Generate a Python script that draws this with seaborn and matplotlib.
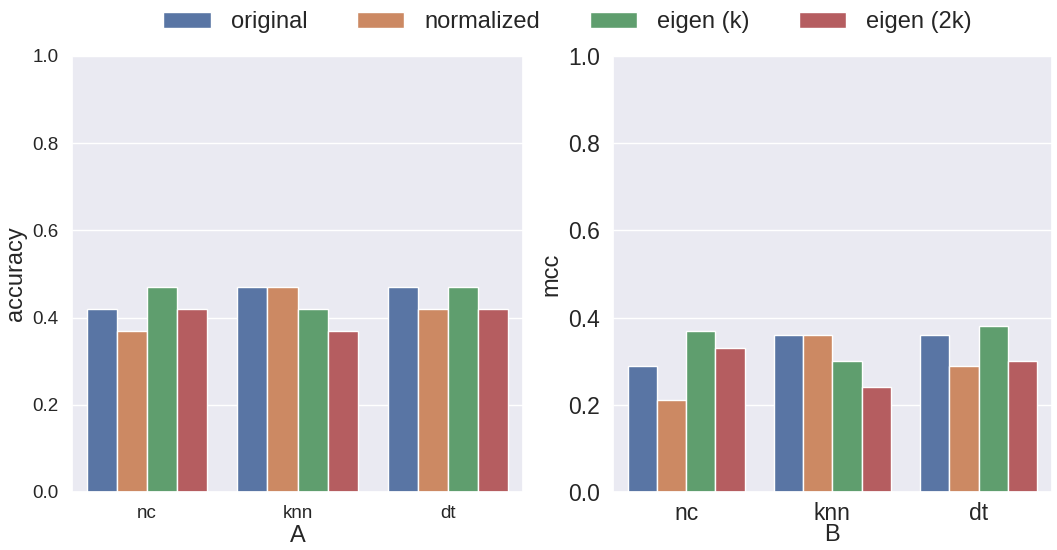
import pandas as pd
import matplotlib
matplotlib.use("Agg")
import matplotlib.pyplot as plt
import seaborn as sns

classifiers = ["nc", "knn", "dt"]
methods = ["original", "normalized", "eigen (k)", "eigen (2k)"]

# accuracy per method, in classifier order
acc_original = [0.42, 0.47, 0.47]
acc_normalized = [0.37, 0.47, 0.42]
acc_eigen_k = [0.47, 0.42, 0.47]
acc_eigen_2k = [0.42, 0.37, 0.42]

# mcc per method, in classifier order
mcc_original = [0.29, 0.36, 0.36]
mcc_normalized = [0.21, 0.36, 0.29]
mcc_eigen_k = [0.37, 0.30, 0.38]
mcc_eigen_2k = [0.33, 0.24, 0.30]


def to_long(series, name):
    rows = []
    for m, vals in zip(methods, series):
        for c, v in zip(classifiers, vals):
            rows.append({"classifier": c, "method": m, name: v})
    return pd.DataFrame(rows)


df_acc = to_long([acc_original, acc_normalized, acc_eigen_k, acc_eigen_2k], "accuracy")
df_mcc = to_long([mcc_original, mcc_normalized, mcc_eigen_k, mcc_eigen_2k], "mcc")

sns.set_theme(style="darkgrid")
plt.rcParams["font.family"] = ["Liberation Sans", "DejaVu Sans"]

fig = plt.figure(figsize=(10.57, 5.5), dpi=100)
ax1 = fig.add_axes([0.068, 0.1055, 0.427, 0.7927])
ax2 = fig.add_axes([0.580, 0.1055, 0.415, 0.7927])

sns.barplot(data=df_acc, x="classifier", y="accuracy", hue="method", ax=ax1,
            order=classifiers, hue_order=methods, legend=False)
sns.barplot(data=df_mcc, x="classifier", y="mcc", hue="method", ax=ax2,
            order=classifiers, hue_order=methods)

ax1.set_ylim(0, 1.0)
ax2.set_ylim(0, 1.0)
ax1.set_xlabel("A", fontsize=17, labelpad=2)
ax1.set_ylabel("accuracy", fontsize=17)
ax1.tick_params(labelsize=13.5)
ax2.set_xlabel("B", fontsize=17, labelpad=-1)
ax2.set_ylabel("mcc", fontsize=17)
ax2.tick_params(labelsize=16.5)
ax2.tick_params(axis="x", pad=1.5)

handles, labels = ax2.get_legend_handles_labels()
ax2.get_legend().remove()
fig.legend(handles, labels, loc="upper center", bbox_to_anchor=(0.537, 1.018),
           ncol=4, frameon=False, fontsize=17, handlelength=2.0,
           handletextpad=0.85, columnspacing=2.1)

fig.savefig("out.png", dpi=100)
